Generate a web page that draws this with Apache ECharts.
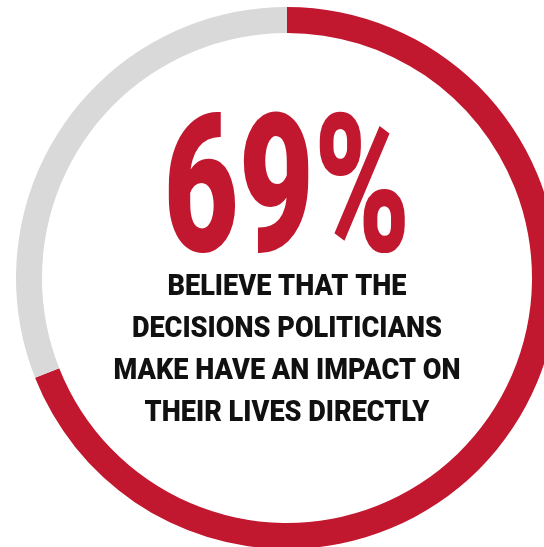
<!DOCTYPE html>
<html>
<head>
<meta charset="utf-8">
<script src="https://cdn.jsdelivr.net/npm/echarts@6/dist/echarts.min.js"></script>
<style>
  html, body { margin: 0; padding: 0; background: #ffffff; }
  #chart { width: 544px; height: 547px; }
</style>
</head>
<body>
<div id="chart"></div>
<script>
// Share of respondents who agree vs. the rest
const shareNames = ['Agree', 'Other'];
const shareValues = [69, 31];
const shareColors = ['#C1172F', '#D9D9D9'];

// Caption under the headline figure
const captionLines = [
  'BELIEVE THAT THE',
  'DECISIONS POLITICIANS',
  'MAKE HAVE AN IMPACT ON',
  'THEIR LIVES DIRECTLY'
];

const headline = shareValues[0] + '%';

const FONT_FAMILY = 'Roboto';
const FONT_WEIGHT = '900';
const cx = 287, cy = 278;
const textCx = 287;

// Measure text so the condensed look can be obtained with a horizontal squeeze
const measureCtx = document.createElement('canvas').getContext('2d');
function fontSpec(size) {
  return FONT_WEIGHT + ' ' + size + 'px ' + FONT_FAMILY;
}
function textWidth(str, size) {
  measureCtx.font = fontSpec(size);
  return measureCtx.measureText(str).width;
}

const headSize = 193;
const headScale = 247 / textWidth(headline, headSize);

const capSize = 29.5;
const capScale = 347 / textWidth(captionLines[2], capSize);
const capTop = 288, capStep = 42;

const chart = echarts.init(document.getElementById('chart'), null, { renderer: 'canvas' });

const graphics = [{
  type: 'text',
  x: textCx,
  y: 203,
  scaleX: headScale,
  silent: true,
  style: {
    text: headline,
    font: fontSpec(headSize),
    fill: shareColors[0],
    align: 'center',
    verticalAlign: 'middle'
  }
}].concat(captionLines.map((line, i) => ({
  type: 'text',
  x: textCx,
  y: capTop + i * capStep,
  scaleX: capScale,
  silent: true,
  style: {
    text: line,
    font: fontSpec(capSize),
    fill: '#111111',
    align: 'center',
    verticalAlign: 'middle'
  }
})));

chart.setOption({
  animation: false,
  backgroundColor: '#ffffff',
  series: [{
    type: 'pie',
    center: [cx, cy],
    radius: [245, 271],
    startAngle: 90,
    clockwise: true,
    silent: true,
    label: { show: false },
    labelLine: { show: false },
    itemStyle: { borderWidth: 0 },
    data: shareNames.map((name, i) => ({
      name: name,
      value: shareValues[i],
      itemStyle: { color: shareColors[i] }
    }))
  }],
  graphic: graphics
});
</script>
</body>
</html>
